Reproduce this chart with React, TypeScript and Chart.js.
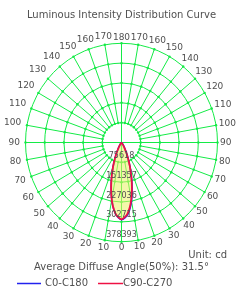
import React, { useEffect, useRef } from 'react';
import { Chart, registerables } from 'chart.js';

Chart.register(...registerables);

const TITLE = 'Luminous Intensity Distribution Curve';
const UNIT_TEXT = 'Unit: cd';
const BEAM_TEXT = 'Average Diffuse Angle(50%): 31.5°';
const SERIES_NAMES = ['C0-C180', 'C90-C270'];
const RING_VALUES = [75618, 151357, 227036, 302715, 378393];
const ANGLE_TICKS = [0, 10, 20, 30, 40, 50, 60, 70, 80, 90, 100, 110, 120, 130, 140, 150, 160, 170, 180];

// gamma angles (deg from nadir) and intensities (cd) for each half-plane
const ANGLES = [0, 5, 10, 15, 20, 25, 30, 35, 40, 45, 50, 60, 70, 80, 90];
const C0 = [294000, 276000, 226000, 158000, 96000, 51000, 23000, 9000, 3000, 800, 200, 0, 0, 0, 0];
const C180 = [294000, 272000, 219000, 154000, 94000, 50000, 22000, 8500, 2800, 700, 150, 0, 0, 0, 0];
const C90 = [293000, 272000, 221000, 156000, 96000, 51000, 22500, 8800, 2900, 750, 180, 0, 0, 0, 0];
const C270 = [293000, 272000, 222000, 157000, 97000, 52000, 23000, 9000, 3000, 800, 200, 0, 0, 0, 0];

const GRID = 'rgb(20, 235, 70)';
const BLUE = '#2222ee';
const RED = '#ee1144';
const FILL = 'rgba(235, 240, 100, 0.55)';
const TEXT = '#505050';
const FONT = '"DejaVu Sans", Verdana, sans-serif';

function toPoints(left: number[], right: number[]) {
  const pts: { x: number; y: number }[] = [];
  for (let i = ANGLES.length - 1; i >= 0; i--) {
    const t = (ANGLES[i] * Math.PI) / 180;
    pts.push({ x: -left[i] * Math.sin(t), y: -left[i] * Math.cos(t) });
  }
  for (let i = 1; i < ANGLES.length; i++) {
    const t = (ANGLES[i] * Math.PI) / 180;
    pts.push({ x: right[i] * Math.sin(t), y: -right[i] * Math.cos(t) });
  }
  return pts;
}

const RMAX = RING_VALUES[RING_VALUES.length - 1];

const polarPlugin = {
  id: 'polarPlugin',
  beforeDraw(chart: any) {
    const { ctx } = chart;
    const xs = chart.scales.x;
    const ys = chart.scales.y;
    const cx = xs.getPixelForValue(0);
    const cy = ys.getPixelForValue(0);
    const px = (v: number) => xs.getPixelForValue(v);
    const py = (v: number) => ys.getPixelForValue(v);
    ctx.save();
    ctx.strokeStyle = GRID;
    ctx.fillStyle = GRID;
    ctx.lineWidth = 1;
    for (const v of RING_VALUES) {
      ctx.beginPath();
      ctx.ellipse(cx, cy, px(v) - cx, cy - py(v), 0, 0, Math.PI * 2);
      ctx.stroke();
    }
    const step = ANGLE_TICKS[1] - ANGLE_TICKS[0];
    for (let a = 0; a < 360; a += step) {
      const t = (a * Math.PI) / 180;
      const s = Math.sin(t);
      const c = Math.cos(t);
      const inner = a % 90 === 0 ? 0 : RING_VALUES[0];
      ctx.beginPath();
      ctx.moveTo(px(inner * s), py(-inner * c));
      ctx.lineTo(px(RMAX * s), py(-RMAX * c));
      ctx.stroke();
      for (const v of RING_VALUES) {
        ctx.beginPath();
        ctx.arc(px(v * s), py(-v * c), 1.2, 0, Math.PI * 2);
        ctx.fill();
      }
    }
    ctx.restore();
  },
  afterDraw(chart: any) {
    const { ctx } = chart;
    const xs = chart.scales.x;
    const ys = chart.scales.y;
    const cx = xs.getPixelForValue(0);
    const cy = ys.getPixelForValue(0);
    const rx = xs.getPixelForValue(RMAX) - cx;
    const ry = cy - ys.getPixelForValue(RMAX);
    ctx.save();
    ctx.fillStyle = TEXT;
    // ring value labels
    ctx.font = '8px ' + FONT;
    ctx.textAlign = 'center';
    ctx.textBaseline = 'bottom';
    for (const v of RING_VALUES) {
      ctx.fillText(String(v), cx, ys.getPixelForValue(-v) - 2.5);
    }
    // angle labels
    ctx.font = '9px ' + FONT;
    ctx.textBaseline = 'middle';
    for (const a of ANGLE_TICKS) {
      const sides = a === 0 || a === 180 ? [1] : [-1, 1];
      for (const side of sides) {
        const t = (a * Math.PI) / 180;
        const s = Math.sin(t);
        const c = Math.cos(t);
        const label = String(a);
        const w = ctx.measureText(label).width;
        const d = 2.5 + Math.abs(s) * w / 2 + Math.abs(c) * 3.5 + (side < 0 ? 3 * Math.abs(s) : 0);
        const x = cx + side * s * (rx + d);
        const y = cy + c * (ry + d);
        ctx.fillText(label, x, y);
      }
    }
    // title
    ctx.font = '10px ' + FONT;
    ctx.textAlign = 'center';
    ctx.fillText(TITLE, 121.5, 15);
    // unit & beam angle
    ctx.textAlign = 'right';
    ctx.fillText(UNIT_TEXT, 227, 255);
    ctx.textAlign = 'center';
    ctx.fillText(BEAM_TEXT, 121.5, 267);
    // legend
    ctx.lineWidth = 1.5;
    ctx.strokeStyle = BLUE;
    ctx.beginPath();
    ctx.moveTo(17, 283.5);
    ctx.lineTo(41, 283.5);
    ctx.stroke();
    ctx.strokeStyle = RED;
    ctx.beginPath();
    ctx.moveTo(98, 283.5);
    ctx.lineTo(123, 283.5);
    ctx.stroke();
    ctx.textAlign = 'left';
    ctx.fillText(SERIES_NAMES[0], 45, 283.5);
    ctx.fillText(SERIES_NAMES[1], 123, 283.5);
    ctx.restore();
  },
};

export default function App() {
  const ref = useRef<HTMLCanvasElement | null>(null);
  useEffect(() => {
    if (!ref.current) return;
    const chart = new Chart(ref.current, {
      type: 'scatter',
      data: {
        datasets: [
          {
            label: SERIES_NAMES[1],
            data: toPoints(C270, C90),
            showLine: true,
            borderColor: RED,
            borderWidth: 1.8,
            backgroundColor: FILL,
            fill: 'shape',
            pointRadius: 0,
            tension: 0.3,
            order: 0,
          } as any,
          {
            label: SERIES_NAMES[0],
            data: toPoints(C180, C0),
            showLine: true,
            borderColor: BLUE,
            borderWidth: 1.7,
            fill: false,
            pointRadius: 0,
            tension: 0.3,
            order: 1,
          } as any,
        ],
      },
      options: {
        responsive: false,
        animation: false,
        events: [],
        layout: { padding: { left: 25.5, right: 26.5, top: 43.3, bottom: 57.3 } },
        scales: {
          x: { type: 'linear', display: false, min: -RMAX, max: RMAX },
          y: { type: 'linear', display: false, min: -RMAX, max: RMAX },
        },
        plugins: {
          legend: { display: false },
          tooltip: { enabled: false },
          title: { display: false },
        },
      },
      plugins: [polarPlugin],
    });
    return () => chart.destroy();
  }, []);
  return (
    <div style={{ position: 'absolute', left: 0, top: 0, width: 244, height: 299, background: '#fff' }}>
      <canvas ref={ref} width={244} height={299} style={{ width: 244, height: 299 }} />
    </div>
  );
}
